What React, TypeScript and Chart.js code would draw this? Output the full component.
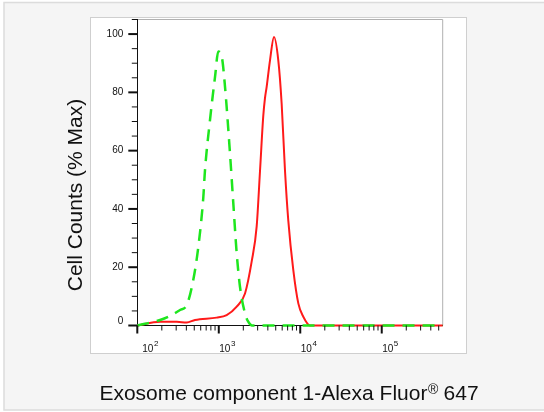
import React, { useEffect, useRef } from 'react';
import { Chart, registerables } from 'chart.js';

Chart.register(...registerables);

// ---- data ----
const redX = [100, 190, 305, 404, 511, 942, 1250, 1659, 2099, 2535, 2918, 3206, 3518, 3690, 3873, 4253, 4763, 5375, 5914, 6500, 7132, 8217, 9465, 10900, 13170, 30000, 560000];
const redY = [0, 1.3, 1.3, 1.0, 1.9, 2.7, 3.6, 6.5, 11, 22, 34, 53, 72, 78, 82, 91, 99, 91, 76, 53, 36, 19, 7.6, 3, 0, 0, 0];

const greenX = [100, 190, 240, 334, 404, 486, 561, 646, 676, 780, 900, 986, 1087, 1192, 1373, 1507, 1659, 1821, 2096, 2300, 2556, 6000, 560000];
const greenY = [0, 1.9, 3, 5.3, 7, 15.6, 27, 44, 53, 70.5, 85.4, 94, 92.3, 82, 59, 42, 24.8, 13.3, 4.2, 1.3, 0, 0, 0];

const xMajorValues = [100, 1000, 10000, 100000];
const xTickBase = ['10', '10', '10', '10'];
const xTickExp = ['2', '3', '4', '5'];
const yTickValues = [0, 20, 40, 60, 80, 100];
const yTickLabels = ['0', '20', '40', '60', '80', '100'];
const yTitle = 'Cell Counts (% Max)';
const xTitleParts = ['Exosome component 1-Alexa Fluor', '®', ' 647'];

const X_MIN = 100;
const X_MAX = 560000;
const Y_MIN = 0;
const Y_MAX = 105;

const FAMILY = "'Liberation Sans', Arial, sans-serif";

const decorPlugin = {
  id: 'decor',
  beforeDraw(chart: any) {
    const ctx = chart.ctx;
    ctx.save();
    ctx.fillStyle = '#ffffff';
    ctx.fillRect(0, 0, chart.width, chart.height);
    // outer grey panel
    ctx.fillStyle = '#f5f5f5';
    ctx.fillRect(4, 2.5, chart.width, 407.5);
    ctx.strokeStyle = '#dcdcdc';
    ctx.lineWidth = 1.5;
    ctx.beginPath();
    ctx.moveTo(chart.width, 2.5);
    ctx.lineTo(4, 2.5);
    ctx.lineTo(4, 410);
    ctx.lineTo(chart.width, 410);
    ctx.stroke();
    // white box
    ctx.fillStyle = '#ffffff';
    ctx.fillRect(90, 17, 377, 337);
    ctx.strokeStyle = '#cfcfcf';
    ctx.lineWidth = 1;
    ctx.strokeRect(90.5, 17.5, 376, 336);
    // plot frame top/right
    const ca = chart.chartArea;
    ctx.strokeStyle = '#b0b0b0';
    ctx.beginPath();
    ctx.moveTo(ca.left, ca.top);
    ctx.lineTo(ca.right, ca.top);
    ctx.lineTo(ca.right, ca.bottom);
    ctx.stroke();
    ctx.restore();
  },
  afterDraw(chart: any) {
    const ctx = chart.ctx;
    const ca = chart.chartArea;
    const xs = chart.scales.x;
    const ys = chart.scales.y;
    ctx.save();
    ctx.strokeStyle = '#111111';
    xs.ticks.forEach((t: any) => {
      const px = xs.getPixelForValue(t.value);
      const major = xMajorValues.indexOf(t.value) >= 0;
      ctx.lineWidth = major ? 2 : 1;
      const len = major ? 8 : 5;
      ctx.beginPath();
      ctx.moveTo(px, ca.bottom);
      ctx.lineTo(px, ca.bottom + len);
      ctx.stroke();
    });
    ys.ticks.forEach((t: any) => {
      const py = ys.getPixelForValue(t.value);
      const major = yTickValues.indexOf(t.value) >= 0;
      ctx.lineWidth = major ? 2 : 1;
      const len = major ? 9 : 5.5;
      ctx.beginPath();
      ctx.moveTo(ca.left - len, py);
      ctx.lineTo(ca.left, py);
      ctx.stroke();
    });
    // x tick labels: 10 with superscript exponent
    ctx.fillStyle = '#111111';
    ctx.textAlign = 'left';
    ctx.textBaseline = 'alphabetic';
    xMajorValues.forEach((v, i) => {
      const px = xs.getPixelForValue(v);
      const sx = Math.max(px + 0.5, ca.left + 5);
      ctx.font = `10px ${FAMILY}`;
      ctx.fillText(xTickBase[i], sx, 352);
      const bw = ctx.measureText(xTickBase[i]).width;
      ctx.font = `8px ${FAMILY}`;
      ctx.fillText(xTickExp[i], sx + bw + 0.5, 346);
    });
    // y title
    ctx.save();
    ctx.translate(76, 195);
    ctx.rotate(-Math.PI / 2);
    ctx.font = `21px ${FAMILY}`;
    ctx.textAlign = 'center';
    ctx.textBaseline = 'middle';
    ctx.fillText(yTitle, 0, 0);
    ctx.restore();
    // x title with superscript ®
    const bigFont = `21px ${FAMILY}`;
    const smallFont = `14px ${FAMILY}`;
    ctx.font = bigFont;
    const w0 = ctx.measureText(xTitleParts[0]).width;
    const w2 = ctx.measureText(xTitleParts[2]).width;
    ctx.font = smallFont;
    const w1 = ctx.measureText(xTitleParts[1]).width;
    const total = w0 + w1 + w2;
    let sx = (ca.left + ca.right) / 2 - total / 2 - 1;
    ctx.textAlign = 'left';
    ctx.textBaseline = 'alphabetic';
    ctx.font = bigFont;
    ctx.fillText(xTitleParts[0], sx, 400);
    sx += w0 + 0.5;
    ctx.font = smallFont;
    ctx.fillText(xTitleParts[1], sx, 394);
    sx += w1 - 0.5;
    ctx.font = bigFont;
    ctx.fillText(xTitleParts[2], sx, 400);
    ctx.restore();
  },
};

export default function App() {
  const ref = useRef<HTMLCanvasElement | null>(null);

  useEffect(() => {
    if (!ref.current) return;
    const greenData = greenX.map((x, i) => ({ x, y: greenY[i] }));
    const redData = redX.map((x, i) => ({ x, y: redY[i] }));
    const chart = new Chart(ref.current, {
      type: 'line',
      data: {
        datasets: [
          {
            label: 'Control',
            data: greenData,
            borderColor: '#1ee61e',
            borderWidth: 2.5,
            borderDash: [12, 8],
            pointRadius: 0,
            cubicInterpolationMode: 'monotone',
            fill: false,
            clip: 6,
          },
          {
            label: 'Exosome component 1',
            data: redData,
            borderColor: '#ff1a1a',
            borderWidth: 2,
            pointRadius: 0,
            cubicInterpolationMode: 'monotone',
            fill: false,
            clip: 6,
          },
        ],
      } as any,
      options: {
        responsive: false,
        animation: false,
        devicePixelRatio: 1,
        layout: { padding: { left: 97.3, right: 101.3, top: 19.5, bottom: 46.5 } },
        plugins: { legend: { display: false }, tooltip: { enabled: false }, title: { display: false } },
        scales: {
          x: {
            type: 'logarithmic',
            position: 'bottom',
            min: X_MIN,
            max: X_MAX,
            afterBuildTicks: (s: any) => {
              const t: any[] = [];
              for (let e = 2; e <= 5; e++) {
                for (let m = 1; m <= 9; m++) {
                  const v = m * Math.pow(10, e);
                  if (v >= X_MIN && v <= X_MAX) t.push({ value: v });
                }
              }
              s.ticks = t;
            },
            afterFit: (s: any) => {
              s.height = 40;
            },
            grid: { display: false, drawTicks: false },
            border: { display: true, color: '#111111', width: 1 },
            ticks: { display: false, autoSkip: false, maxRotation: 0, minRotation: 0 },
          },
          y: {
            type: 'linear',
            min: Y_MIN,
            max: Y_MAX,
            afterBuildTicks: (s: any) => {
              const t: any[] = [];
              for (let v = Y_MIN; v <= Y_MAX; v += 5) t.push({ value: v });
              s.ticks = t;
            },
            afterFit: (s: any) => {
              s.width = 40;
            },
            grid: { display: false, drawTicks: false },
            border: { display: true, color: '#111111', width: 1 },
            ticks: {
              autoSkip: false,
              padding: 14,
              color: '#111111',
              font: { size: 10, family: FAMILY, lineHeight: 0.8 },
              callback: (v: any) => {
                const i = yTickValues.indexOf(Number(v));
                if (i < 0) return '';
                return Number(v) === 0 ? [yTickLabels[i], ''] : yTickLabels[i];
              },
            },
          },
        },
      } as any,
      plugins: [decorPlugin],
    });
    return () => chart.destroy();
  }, []);

  return (
    <div style={{ position: 'fixed', left: 0, top: 0, width: 544, height: 412 }}>
      <canvas ref={ref} width={544} height={412} style={{ display: 'block', width: 544, height: 412 }} />
    </div>
  );
}
